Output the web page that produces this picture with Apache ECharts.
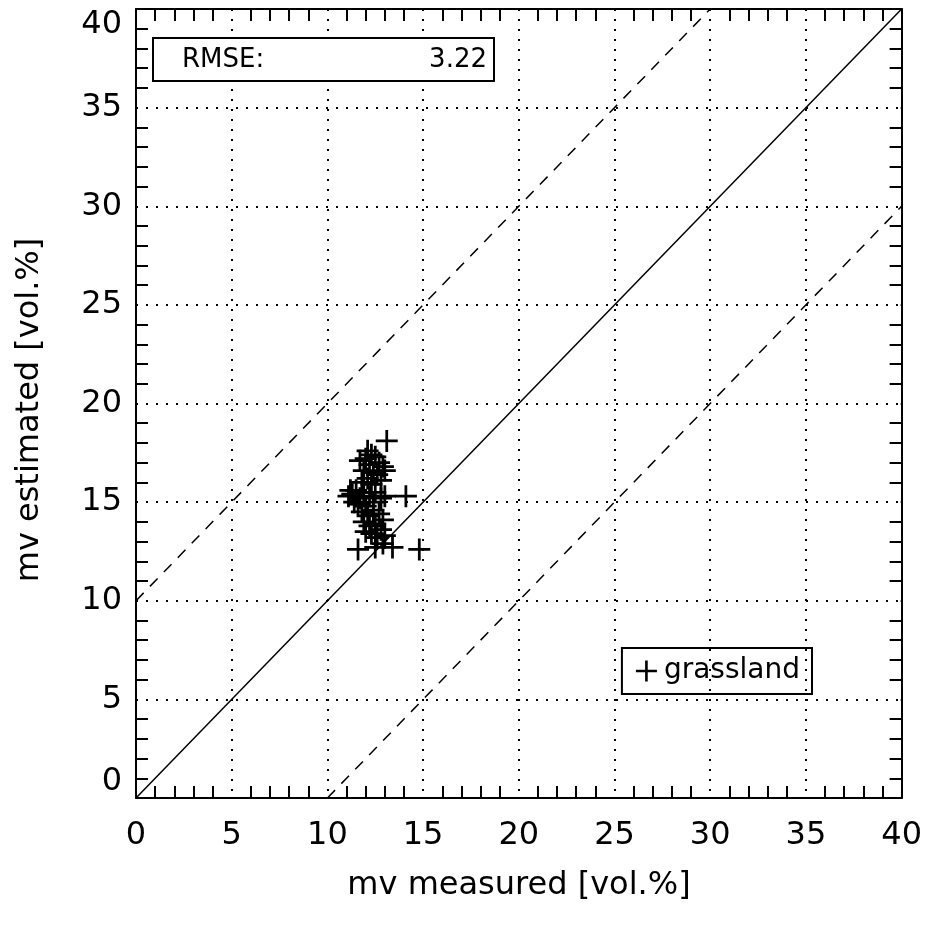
<!DOCTYPE html>
<html>
<head>
<meta charset="utf-8">
<script src="https://cdn.jsdelivr.net/npm/echarts@6/dist/echarts.min.js"></script>
<style>html,body{margin:0;padding:0;background:#fff;}#c{width:925px;height:931px;}</style>
</head>
<body>
<div id="c"></div>
<script>
var xTicks = [0, 5, 10, 15, 20, 25, 30, 35, 40];
var yTicks = [0, 5, 10, 15, 20, 25, 30, 35, 40];
var grasslandX = [12.0,12.3,12.5,12.2,12.7,12.9,11.9,12.4,12.6,13.0,12.1,11.8,12.3,12.8,
  11.1,11.3,11.5,11.7,11.9,12.2,12.5,12.8,11.6,12.0,11.4,12.4,13.0,11.2,
  11.8,12.1,12.4,12.7,12.9,11.9,12.2,12.5,12.8,12.3,12.6,13.0,12.0,12.9,
  13.1,14.1,14.8,13.4,11.6,12.5,12.1,11.7];
var grasslandY = [17.2,17.4,17.3,16.9,17.0,16.8,16.6,16.5,16.4,16.6,16.2,16.0,15.9,16.1,
  15.3,15.4,15.6,15.2,15.5,15.3,15.5,15.2,14.9,14.8,15.0,15.0,15.3,15.6,
  14.5,14.3,14.6,14.4,14.1,14.0,13.8,13.9,13.6,13.4,13.2,13.3,13.5,12.9,
  18.1,15.3,12.6,12.7,12.6,12.7,17.6,17.1];
var oneToOne = [[0, 0], [40, 40]];
var upperBound = [[0, 10], [30, 40]];
var lowerBound = [[10, 0], [40, 30]];
var rmseLabel = 'RMSE:';
var rmseValue = '3.22';
var seriesName = 'grassland';

var FONT = 'DejaVu Sans';
var plusPath = 'path://M8.75,0h2.5v20h-2.5zM0,8.75h20v2.5h-20z';
var pts = grasslandX.map(function (x, i) { return [x, grasslandY[i]]; });

function axisCommon(showLabel) {
  return {
    type: 'value', min: 0, max: 40, interval: 5,
    axisLine: { show: true, onZero: false, lineStyle: { color: '#000', width: 2 } },
    axisTick: { show: true, inside: true, length: 1, lineStyle: { color: '#000', width: 2 } },
    minorTick: { show: true, splitNumber: 5, length: 12, lineStyle: { color: '#000', width: 2 } },
    splitLine: { show: false },
    axisLabel: { show: showLabel, color: '#000', fontFamily: FONT, fontSize: 32 }
  };
}
var gridDots = { show: true, lineStyle: { color: '#000', width: 2, type: [2, 8] } };
var xBottom = axisCommon(true);
xBottom.position = 'bottom';
xBottom.axisLabel.margin = 22;
xBottom.axisLabel.formatter = function (v) { return xTicks.indexOf(v) >= 0 ? String(v) : ''; };
xBottom.splitLine = gridDots;
var xTop = axisCommon(false);
xTop.position = 'top';
var yLeft = axisCommon(true);
yLeft.position = 'left';
yLeft.axisLabel.margin = 14;
yLeft.axisLabel.verticalAlignMinLabel = 'bottom';
yLeft.axisLabel.verticalAlignMaxLabel = 'top';
yLeft.axisLabel.formatter = function (v) { return yTicks.indexOf(v) >= 0 ? String(v) : ''; };
yLeft.splitLine = gridDots;
var yRight = axisCommon(false);
yRight.position = 'right';

var chart = echarts.init(document.getElementById('c'), null, { renderer: 'canvas' });
chart.setOption({
  animation: false,
  backgroundColor: '#fff',
  grid: { left: 136, right: 23, top: 9, bottom: 133 },
  xAxis: [xBottom, xTop],
  yAxis: [yLeft, yRight],
  legend: {
    right: 113, top: 648,
    data: [{ name: seriesName, icon: plusPath }],
    itemWidth: 21, itemHeight: 21, itemGap: 0,
    borderColor: '#000', borderWidth: 2, borderRadius: 0,
    padding: [9, 12, 9, 14],
    textStyle: { color: '#000', fontFamily: FONT, fontSize: 28, padding: [0, 0, 0, 2] },
    itemStyle: { color: '#000' }
  },
  series: [
    { type: 'line', data: oneToOne, symbol: 'none', lineStyle: { color: '#000', width: 1.5 }, z: 3, silent: true },
    { type: 'line', data: upperBound, symbol: 'none', lineStyle: { color: '#000', width: 1.5, type: [11, 9] }, z: 3, silent: true },
    { type: 'line', data: lowerBound, symbol: 'none', lineStyle: { color: '#000', width: 1.5, type: [11, 9] }, z: 3, silent: true },
    { name: seriesName, type: 'scatter', data: pts, symbol: plusPath, symbolSize: 22,
      itemStyle: { color: '#000', opacity: 1 }, z: 4 }
  ],
  graphic: [
    { type: 'rect', shape: { x: 153, y: 38, width: 341, height: 43 },
      style: { fill: '#fff', stroke: '#000', lineWidth: 2 }, z: 100 },
    { type: 'text', x: 182, y: 60, z: 101,
      style: { text: rmseLabel, fill: '#000', font: '26px "DejaVu Sans"', textVerticalAlign: 'middle', textAlign: 'left' } },
    { type: 'text', x: 487, y: 60, z: 101,
      style: { text: rmseValue, fill: '#000', font: '26px "DejaVu Sans"', textVerticalAlign: 'middle', textAlign: 'right' } },
    { type: 'text', x: 519, y: 886, z: 101,
      style: { text: 'mv measured [vol.%]', fill: '#000', font: '32px "DejaVu Sans"', textVerticalAlign: 'middle', textAlign: 'center' } },
    { type: 'text', x: 30, y: 410, rotation: Math.PI / 2, z: 101,
      style: { text: 'mv estimated [vol.%]', fill: '#000', font: '32px "DejaVu Sans"', textVerticalAlign: 'middle', textAlign: 'center' } }
  ]
});
</script>
</body>
</html>
